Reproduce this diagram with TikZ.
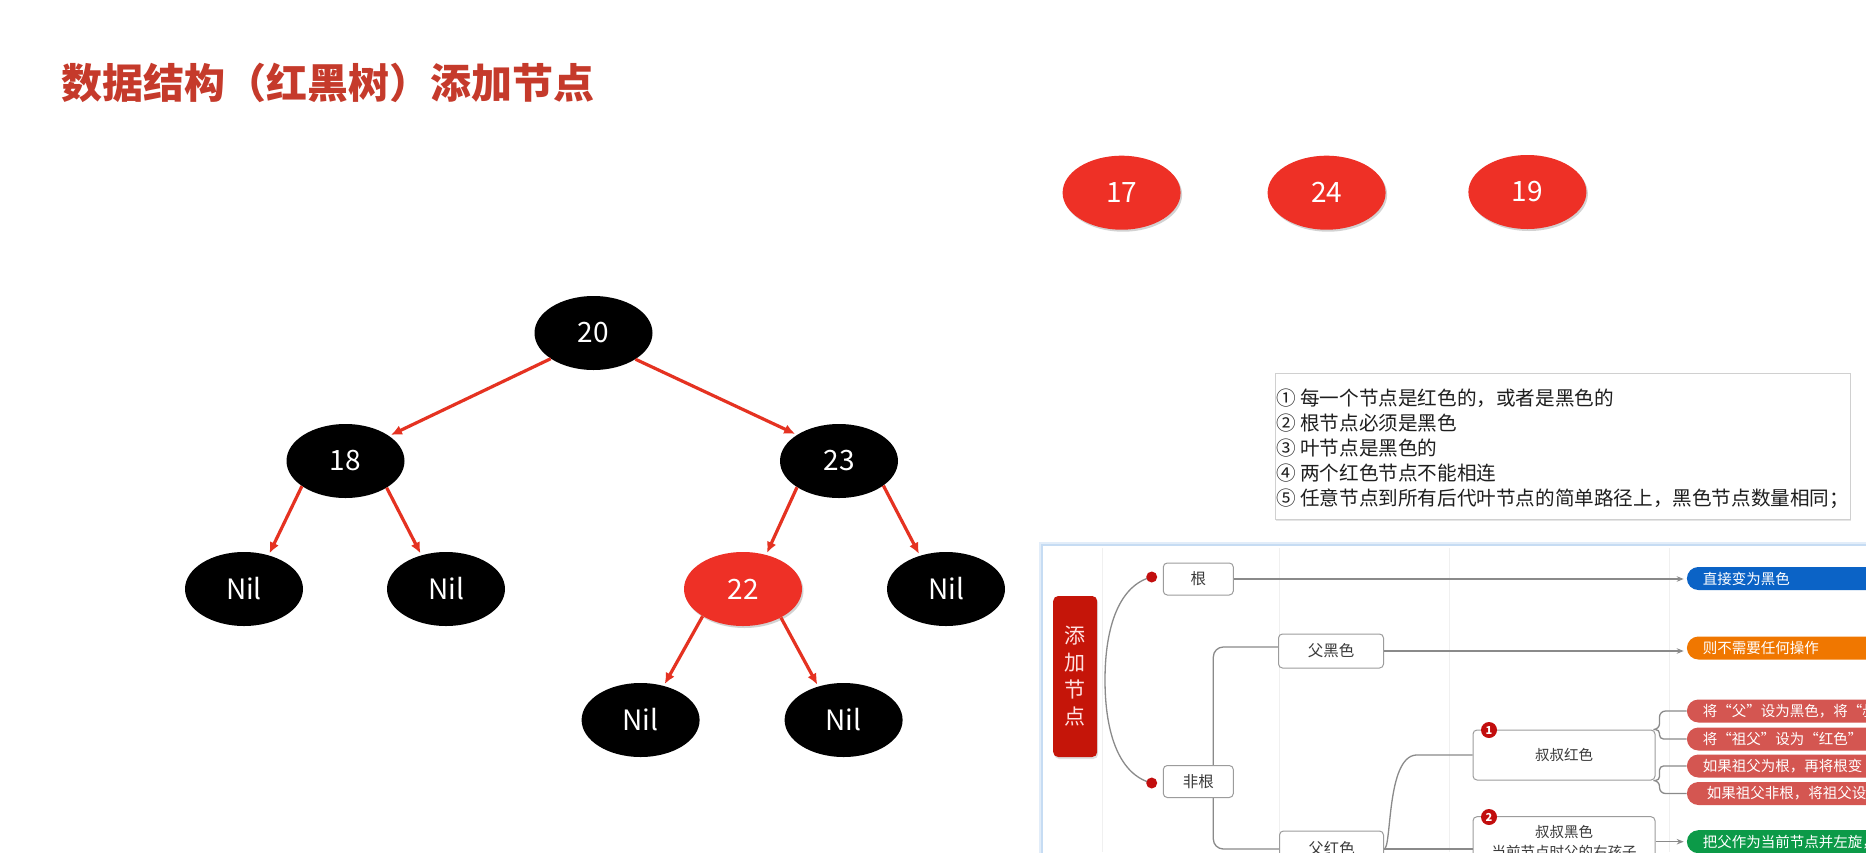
\documentclass[tikz,border=0pt]{standalone}
\usepackage{fontspec}
\setmainfont{Noto Sans CJK SC}
\usetikzlibrary{shapes.geometric,arrows.meta,shadows,calc}
\definecolor{titlered}{HTML}{C53A2B}
\definecolor{edgered}{HTML}{E53221}
\definecolor{nodered}{HTML}{EE3026}
\definecolor{pillblue}{HTML}{0B63C6}
\definecolor{pillorange}{HTML}{F07700}
\definecolor{pillpink}{HTML}{D45651}
\definecolor{pillgreen}{HTML}{0C9A48}
\definecolor{rootred}{HTML}{C51509}
\definecolor{badgered}{HTML}{C20E0E}
\definecolor{frameblue}{HTML}{C6DCF3}
\definecolor{gridgray}{HTML}{F0F0F0}
\definecolor{boxgray}{HTML}{9C9C9C}
\definecolor{linegray}{HTML}{8A8A8A}
\definecolor{mmtext}{HTML}{3A3A3A}
\definecolor{ruleborder}{HTML}{D0D0D0}
\definecolor{ruletext}{HTML}{1E1E1E}
\pgfdeclarelayer{bg}
\pgfsetlayers{bg,main}
\begin{document}
\begin{tikzpicture}[x=1pt,y=-1pt,
 tnode/.style={ellipse, minimum width=118pt, minimum height=74pt, inner sep=0pt, text=white, font=\fontsize{28}{30}\selectfont},
 blk/.style={tnode, fill=black},
 rednode/.style={tnode, fill=nodered, drop shadow={opacity=0.35, shadow xshift=1.5pt, shadow yshift=-2pt}},
 tedge/.style={draw=edgered, line width=3.2pt, shorten >=2pt, -{Latex[length=11pt,width=10pt]}},
 mmbox/.style={draw=boxgray, fill=white, rounded corners=4pt, line width=1pt, inner sep=0pt, text=mmtext, font=\fontsize{15.5}{20}\selectfont, align=center},
 mmline/.style={draw=linegray, line width=1.3pt},
 mmarrow/.style={mmline, shorten >=3pt, -{Stealth[length=7pt,width=5.5pt]}},
 pill/.style={anchor=west, rounded corners=11.5pt, minimum height=23pt, text width=240pt, inner xsep=16pt, inner ysep=0pt, align=left, text=white, font=\fontsize{14.5}{16}\selectfont},
 badge/.style={circle, fill=badgered, inner sep=0pt, minimum size=16pt, text=white, font=\fontsize{11}{12}\selectfont\bfseries},
 mmdot/.style={circle, fill=badgered, inner sep=0pt, minimum size=11pt}
]
\useasboundingbox (0,0) rectangle (1866,852);
\begin{pgfonlayer}{bg}
\fill[white] (0,0) rectangle (1866,852);
\end{pgfonlayer}
\clip (0,0) rectangle (1866,852);

% title
\node[anchor=west, inner sep=0pt, text=titlered, font=\fontsize{41}{45}\selectfont\bfseries] (title) at (61,83) {数据结构（红黑树）添加节点};

% tree
\node[blk] (n20) at (593.5,333) {20};
\node[blk] (n18) at (345.5,461) {18};
\node[blk] (n23) at (839,461) {23};
\node[blk] (nLL) at (244,589) {Nil};
\node[blk] (nLR) at (446,589) {Nil};
\node[rednode] (n22) at (743,589) {22};
\node[blk] (nRR) at (946,589) {Nil};
\node[blk] (nA) at (640.6,720) {Nil};
\node[blk] (nB) at (843.6,720) {Nil};
\draw[tedge] (n20.211) -- (n18.30);
\draw[tedge] (n20.328) -- (n23.148);
\draw[tedge] (n18.210) -- (nLL.54);
\draw[tedge] (n18.327) -- (nLR.126);
\draw[tedge] (n23.212) -- (n22.56);
\draw[tedge] (n23.331) -- (nRR.128);
\draw[tedge] (n22.214) -- (nA.56);
\draw[tedge] (n22.323) -- (nB.127);

% nodes to insert
\node[rednode] (n17) at (1121.6,192.7) {17};
\node[rednode] (n24) at (1326.6,192.7) {24};
\node[rednode] (n19) at (1527.4,192) {19};

% rules box
\node[draw=ruleborder, fill=white, drop shadow={opacity=0.2, shadow xshift=1pt, shadow yshift=-1.5pt}, minimum width=575pt, minimum height=146.6pt, inner sep=0pt] (rulebox) at (1562.5,446) {};
\node[anchor=west, inner sep=0pt, align=left, text=ruletext, font=\fontsize{19.6}{25}\selectfont] (rules) at (1276,448.3) {① 每一个节点是红色的，或者是黑色的\\② 根节点必须是黑色\\③ 叶节点是黑色的\\④ 两个红色节点不能相连\\⑤ 任意节点到所有后代叶节点的简单路径上，黑色节点数量相同；};

% mind map frame (background layer)
\begin{pgfonlayer}{bg}
\draw[frameblue!50, line width=6pt] (1042,545) rectangle (1900,900);
\draw[frameblue, line width=2.5pt, fill=white] (1042,545) rectangle (1900,900);
\foreach \gx in {1102,1279,1449,1669} \draw[gridgray, line width=1pt] (\gx,548) -- (\gx,852);
\end{pgfonlayer}

% root
\node[fill=rootred, rounded corners=5pt, minimum width=44pt, minimum height=161pt, inner sep=0pt, align=center, text=white!88!red, font=\fontsize{21}{27}\selectfont, drop shadow={opacity=0.25, shadow xshift=1pt, shadow yshift=-2pt}] (root) at (1075.2,676.5) {添\\加\\节\\点};
\node[mmdot] (dA) at (1151.7,577) {};
\node[mmdot] (dB) at (1151.7,783) {};
\node[mmbox, minimum width=70pt, minimum height=32pt] (gen) at (1198.3,579) {根};
\node[mmbox, minimum width=70pt, minimum height=32pt] (feigen) at (1198.3,781.5) {非根};
\node[mmbox, minimum width=105pt, minimum height=34pt] (fuhei) at (1331,651) {父黑色};
\node[mmbox, minimum width=104pt, minimum height=36pt] (fuhong) at (1331.5,849) {父红色};
\node[mmbox, minimum width=182pt, minimum height=50pt, font=\fontsize{14.5}{20}\selectfont] (shuhong) at (1564,755) {叔叔红色};
\node[mmbox, minimum width=182pt, minimum height=50pt, font=\fontsize{14.5}{20}\selectfont] (shuhei) at (1564,841.7) {叔叔黑色\\当前节点时父的右孩子};
\node[badge] (b1) at (1489,730) {1};
\node[badge] (b2) at (1489,817) {2};

% pills
\node[pill, fill=pillblue] (blue) at (1686.7,578.5) {直接变为黑色};
\node[pill, fill=pillorange] (orange) at (1686.7,648) {则不需要任何操作};
\node[pill, fill=pillpink] (p1) at (1686.7,711) {将“父”设为黑色，将“叔};
\node[pill, fill=pillpink] (p2) at (1686.7,739) {将“祖父”设为“红色”};
\node[pill, fill=pillpink] (p3) at (1686.7,766) {如果祖父为根，再将根变};
\node[pill, fill=pillpink] (p4) at (1686.7,793.5) {\hspace{4pt}如果祖父非根，将祖父设};
\node[pill, fill=pillgreen] (green) at (1686.7,841.7) {把父作为当前节点并左旋，};

% mind map connectors
\begin{pgfonlayer}{bg}
\draw[mmline] (dA.center) .. controls (1120,585) and (1105,625) .. (1105,680) .. controls (1105,735) and (1120,775) .. (dB.center);
\draw[mmline, rounded corners=10pt] ($(feigen.center)+(15,0)$) |- ($(fuhei.west)+(0,-4)$);
\draw[mmline, rounded corners=10pt] ($(feigen.center)+(15,0)$) |- (fuhong.west);
\end{pgfonlayer}
\draw[mmarrow] (gen.east) -- (gen.east -| blue.west);
\draw[mmarrow] (fuhei.east) -- (fuhei.east -| orange.west);
\draw[mmline] (fuhong.east) .. controls (1392,849) and (1386,757) .. (1416,755) -- (shuhong.west);
\draw[mmline] (fuhong.east) -- (fuhong.east -| shuhei.west);
\draw[mmarrow] (shuhei.east) -- (green.west);
\draw[mmline, rounded corners=6pt] (shuhong.north east) -- ++(4,0) |- (p1.west);
\draw[mmline, rounded corners=4pt] (shuhong.north east) -- ++(4,0) |- (p2.west);
\draw[mmline, rounded corners=4pt] (shuhong.south east) -- ++(4,0) |- (p3.west);
\draw[mmline, rounded corners=6pt] (shuhong.south east) -- ++(4,0) |- (p4.west);
\end{tikzpicture}
\end{document}
